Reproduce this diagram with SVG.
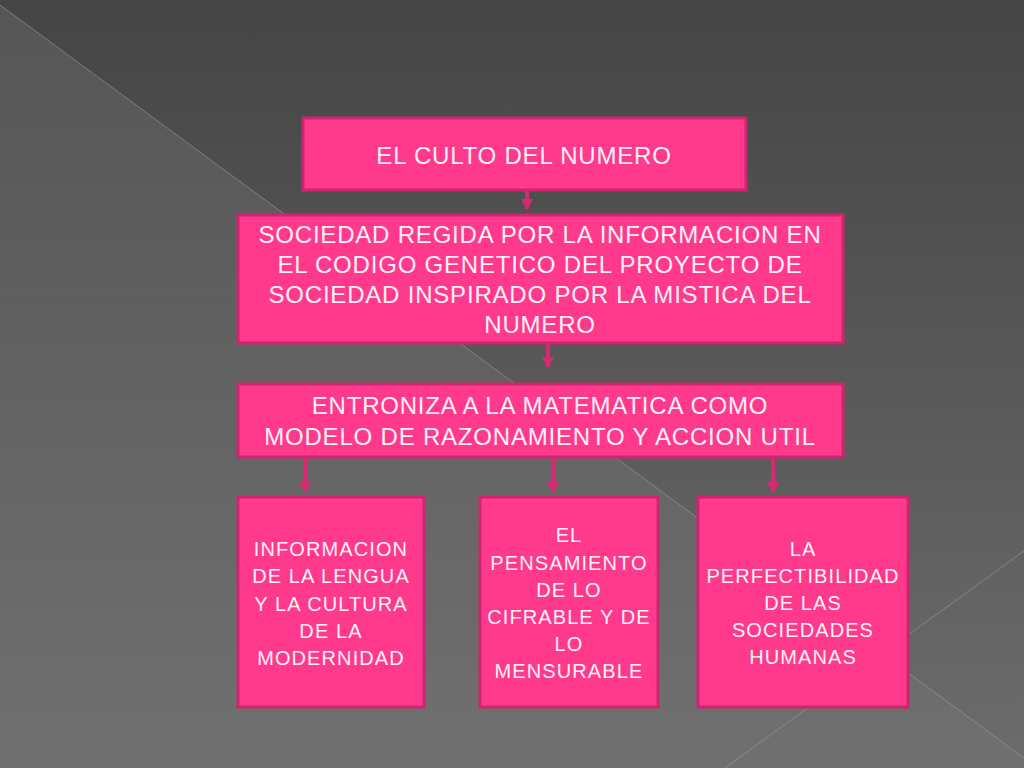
<svg xmlns="http://www.w3.org/2000/svg" width="1024" height="768" viewBox="0 0 1024 768">
<defs>
<linearGradient id="bg" x1="0" y1="0" x2="0" y2="1">
<stop offset="0" stop-color="#454545"/>
<stop offset="1" stop-color="#6c6c6c"/>
</linearGradient>
<linearGradient id="lt" x1="0" y1="0" x2="0" y2="1">
<stop offset="0" stop-color="#ffffff" stop-opacity="0.09"/>
<stop offset="1" stop-color="#ffffff" stop-opacity="0.03"/>
</linearGradient>
<marker id="ah" markerUnits="userSpaceOnUse" markerWidth="12" markerHeight="12" refX="10" refY="6" orient="auto" viewBox="0 0 12 12">
<path d="M0,0 L11,6 L0,12 Z" fill="#d42a70"/>
</marker>
<style>
.box{fill:#ff3a8c;stroke:#cf2570;stroke-width:3}
.t{font-family:"Liberation Sans","DejaVu Sans",sans-serif;fill:#fff0f6;text-anchor:middle}
.big{font-size:24px;letter-spacing:0.8px}
.small{font-size:20px;letter-spacing:1.1px}
.con{stroke:#d42a70;stroke-width:4;fill:none}
</style>
</defs>
<rect width="1024" height="768" fill="url(#bg)"/>
<polygon points="0,5 1024,758 1024,768 0,768" fill="url(#lt)"/>
<line x1="0" y1="5" x2="1024" y2="758" stroke="#9a9a9a" stroke-width="1" stroke-opacity="0.6"/>
<line x1="725" y1="768" x2="1024" y2="551" stroke="#9a9a9a" stroke-width="1" stroke-opacity="0.6"/>

<g id="connectors">
<line class="con" x1="527" y1="191" x2="527" y2="209" marker-end="url(#ah)"/>
<line class="con" x1="548" y1="344" x2="548" y2="367" marker-end="url(#ah)"/>
<line class="con" x1="305" y1="458" x2="305" y2="492" marker-end="url(#ah)"/>
<line class="con" x1="553" y1="458" x2="553" y2="492" marker-end="url(#ah)"/>
<line class="con" x1="773" y1="458" x2="773" y2="492" marker-end="url(#ah)"/>
</g>

<g id="n1">
<rect class="box" x="303" y="118" width="443" height="72"/>
<text class="t big" x="524" y="164">EL CULTO DEL NUMERO</text>
</g>
<g id="n2">
<rect class="box" x="238" y="215" width="605" height="128"/>
<text class="t big" x="540" y="243">SOCIEDAD REGIDA POR LA INFORMACION EN</text>
<text class="t big" x="540" y="273">EL CODIGO GENETICO DEL PROYECTO DE</text>
<text class="t big" x="540" y="303">SOCIEDAD INSPIRADO POR LA MISTICA DEL</text>
<text class="t big" x="540" y="333">NUMERO</text>
</g>
<g id="n3">
<rect class="box" x="238" y="384" width="605" height="73"/>
<text class="t big" x="540" y="414">ENTRONIZA A LA MATEMATICA COMO</text>
<text class="t big" x="540" y="445">MODELO DE RAZONAMIENTO Y ACCION UTIL</text>
</g>
<g id="n4">
<rect class="box" x="238" y="497" width="186" height="210"/>
<text class="t small" x="331" y="556">INFORMACION</text>
<text class="t small" x="331" y="583">DE LA LENGUA</text>
<text class="t small" x="331" y="611">Y LA CULTURA</text>
<text class="t small" x="331" y="638">DE LA</text>
<text class="t small" x="331" y="665">MODERNIDAD</text>
</g>
<g id="n5">
<rect class="box" x="480" y="497" width="178" height="210"/>
<text class="t small" x="569" y="542">EL</text>
<text class="t small" x="569" y="570">PENSAMIENTO</text>
<text class="t small" x="569" y="597">DE LO</text>
<text class="t small" x="569" y="624">CIFRABLE Y DE</text>
<text class="t small" x="569" y="651">LO</text>
<text class="t small" x="569" y="678">MENSURABLE</text>
</g>
<g id="n6">
<rect class="box" x="698" y="497" width="210" height="210"/>
<text class="t small" x="803" y="556">LA</text>
<text class="t small" x="803" y="583">PERFECTIBILIDAD</text>
<text class="t small" x="803" y="610">DE LAS</text>
<text class="t small" x="803" y="637">SOCIEDADES</text>
<text class="t small" x="803" y="664">HUMANAS</text>
</g>
</svg>
